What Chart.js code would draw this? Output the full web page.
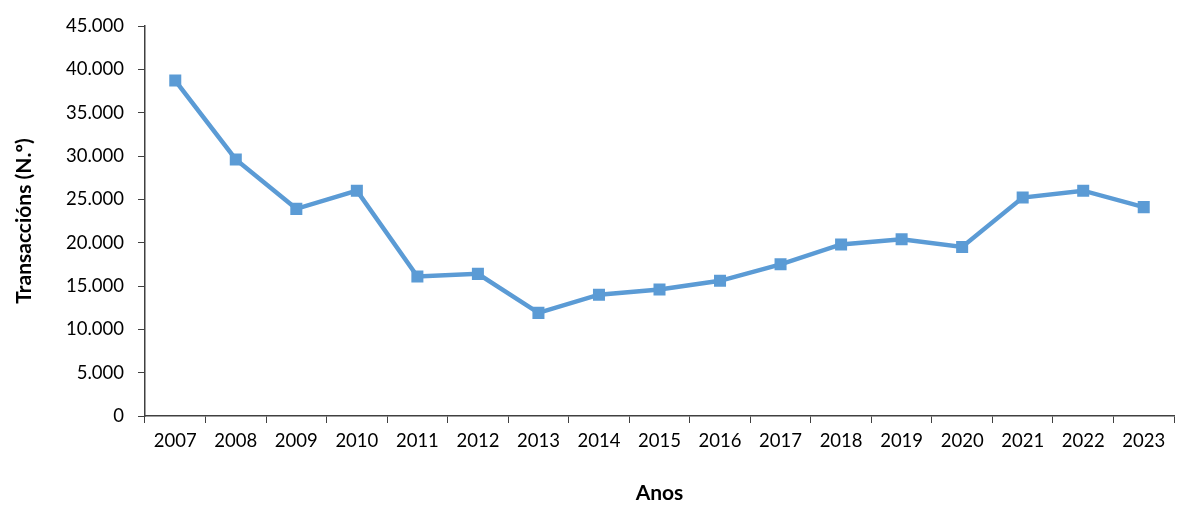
<!DOCTYPE html>
<html>
<head>
<meta charset="utf-8">
<script src="https://cdn.jsdelivr.net/npm/chart.js@4"></script>
<style>
  html, body { margin: 0; padding: 0; background: #fff; }
  #wrap { width: 1200px; height: 522px; }
</style>
</head>
<body>
<div id="wrap"><canvas id="chart" width="1200" height="522"></canvas></div>
<script>
// data
var years = ['2007', '2008', '2009', '2010', '2011', '2012', '2013', '2014', '2015',
  '2016', '2017', '2018', '2019', '2020', '2021', '2022', '2023'];
var transactions = [38700, 29600, 23900, 26000, 16100, 16400, 11900, 14000, 14600,
  15600, 17500, 19800, 20400, 19500, 25200, 26000, 24100];
var yTicks = [0, 5000, 10000, 15000, 20000, 25000, 30000, 35000, 40000, 45000];

function fmt(v) {
  return String(v).replace(/\B(?=(\d{3})+(?!\d))/g, '.');
}

var lineColor = '#5B9BD5';
var axisColor = '#404040';
var fontFamily = 'Lato, "Open Sans", sans-serif';

var ctx = document.getElementById('chart').getContext('2d');
new Chart(ctx, {
  type: 'line',
  data: {
    labels: years,
    datasets: [{
      label: 'Transaccións',
      data: transactions,
      borderColor: lineColor,
      backgroundColor: lineColor,
      borderWidth: 4.5,
      pointStyle: 'rect',
      pointRadius: 8.5,
      pointHoverRadius: 8.5,
      pointBorderWidth: 0,
      tension: 0
    }]
  },
  options: {
    responsive: false,
    animation: false,
    layout: { padding: { top: 26, right: 26, left: 0, bottom: 0 } },
    plugins: {
      legend: { display: false },
      tooltip: { enabled: false }
    },
    scales: {
      x: {
        offset: true,
        grid: {
          offset: true,
          drawOnChartArea: false,
          drawTicks: true,
          tickLength: 7,
          color: axisColor
        },
        border: { display: true, color: axisColor, width: 1.5 },
        ticks: {
          color: '#000',
          padding: 7,
          maxRotation: 0,
          autoSkip: false,
          font: { family: fontFamily, size: 18.5 }
        },
        title: {
          display: true,
          text: 'Anos',
          color: '#000',
          padding: { top: 0, bottom: 16 },
          font: { family: fontFamily, size: 21, weight: 'bold' }
        },
        afterFit: function (scale) { scale.height = 106; }
      },
      y: {
        min: 0,
        max: 45000,
        afterBuildTicks: function (scale) {
          scale.ticks = yTicks.map(function (v) { return { value: v }; });
        },
        grid: {
          drawOnChartArea: false,
          drawTicks: true,
          tickLength: 7,
          color: axisColor
        },
        border: { display: true, color: axisColor, width: 1.5 },
        ticks: {
          color: '#000',
          padding: 14,
          callback: function (v) { return fmt(v); },
          font: { family: fontFamily, size: 18.5 }
        },
        title: {
          display: true,
          text: 'Transaccións (N.º)',
          color: '#000',
          padding: { top: 12, bottom: 0 },
          font: { family: fontFamily, size: 21, weight: 'bold' }
        },
        afterFit: function (scale) { scale.width = 145; }
      }
    }
  }
});
</script>
</body>
</html>
